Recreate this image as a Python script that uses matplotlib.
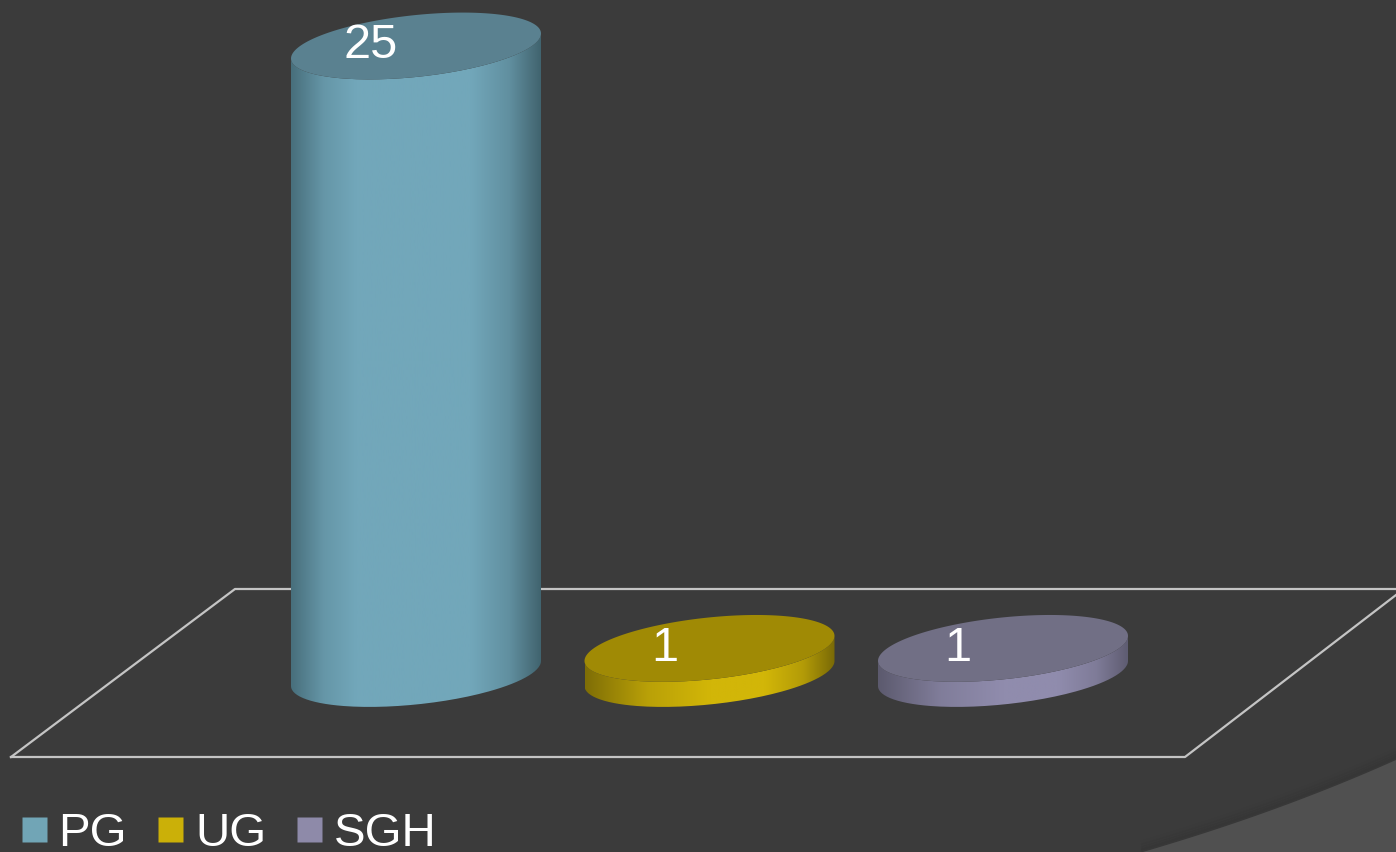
import numpy as np
import matplotlib
matplotlib.use("Agg")
import matplotlib.pyplot as plt
from matplotlib.colors import LinearSegmentedColormap, to_rgb
from matplotlib.lines import Line2D
from matplotlib.patches import PathPatch, Polygon
from matplotlib.path import Path

plt.rcParams['font.family'] = ['Liberation Sans', 'DejaVu Sans']

categories = ["PG", "UG", "SGH"]
values = [25, 1, 1]
labels = ["25", "1", "1"]

# side gradient: edge, light, edge, top face colour, legend colour
side_dark_left = ["#486f7c", "#7f6e06", "#5c5a6e"]
side_light = ["#72a7ba", "#d2b608", "#908cad"]
side_dark_right = ["#41646f", "#7a6a06", "#5f5d72"]
top_colors = ["#5a8190", "#a08a05", "#716f85"]
legend_colors = ["#71a5b6", "#cbb008", "#8e8aa9"]
# where the light band of each side starts and ends, 0-1 across the width
light_from = [0.26, 0.5, 0.5]
light_to = [0.72, 0.72, 0.72]

W, H = 1396, 852
BG = "#3b3b3b"

# the chart was laid out in pixels, one category = 293.5 px, one unit = 25.1 px
X0, DX = 416, 293.5
Y0, DY = 673.5, 25.1
HALF_W = 125 / DX
SHEAR = 12.5 / DY
DEPTH = 31 / DY


def px(x, y):
    return (x - X0) / DX, (Y0 - y) / DY


def ellipse(xc, yc, t):
    return xc + HALF_W * np.cos(t), yc + SHEAR * np.cos(t) - DEPTH * np.sin(t)


def mix(a, b, f):
    return tuple((1 - f) * p + f * q for p, q in zip(to_rgb(a), to_rgb(b)))


fig = plt.figure(figsize=(W / 100, H / 100), dpi=100, facecolor=BG)
ax = fig.add_axes([0, 0, 1, 1])
ax.set_facecolor(BG)
ax.axis("off")

# lighter swoosh in the corner with its soft edge
t = np.linspace(0, 1, 60)
sx = (1 - t) ** 2 * 1143 + 2 * t * (1 - t) * 1280 + t ** 2 * 1396
sy = (1 - t) ** 2 * 852 + 2 * t * (1 - t) * 812 + t ** 2 * 760
for off, a in [(10, 0.015), (7, 0.02), (4, 0.03), (2, 0.04)]:
    ax.plot(*px(sx, sy - off), color="black", lw=3, alpha=a, zorder=1)
corner = [px(a, b) for a, b in zip(sx, sy)] + [px(1396, 852)]
ax.add_patch(Polygon(corner, closed=True, fc="#505050", ec="none", zorder=1))

# floor
floor = [(11, 757), (1185, 757), (1396, 595)]
ax.plot(*zip(*[px(a, b) for a, b in floor]), color="#c4c4c4", lw=1.6, zorder=2)
floor2 = [(11, 757), (235, 589), (1396, 589)]
ax.plot(*zip(*[px(a, b) for a, b in floor2]), color="#c4c4c4", lw=1.6, zorder=2)

# cylinders
for i, v in enumerate(values):
    lo, hi = light_from[i], light_to[i]
    cmap = LinearSegmentedColormap.from_list(
        "side" + str(i),
        [(0, side_dark_left[i]),
         (lo * 0.5, mix(side_dark_left[i], side_light[i], 0.7)),
         (lo, side_light[i]),
         (hi, side_light[i]),
         (hi + (1 - hi) * 0.55, mix(side_dark_right[i], side_light[i], 0.65)),
         (1, side_dark_right[i])])

    tb = np.linspace(0, np.pi, 100)
    bx, by = ellipse(i, 0, tb)
    tt = np.linspace(np.pi, 0, 100)
    ux, uy = ellipse(i, v, tt)
    side_xy = np.column_stack([np.r_[bx, ux], np.r_[by, uy]])
    side = PathPatch(Path(side_xy), fc="none", ec="none", zorder=3)
    ax.add_patch(side)

    grad = np.linspace(0, 1, 256).reshape(1, -1)
    im = ax.imshow(grad, cmap=cmap, aspect="auto", zorder=3,
                   extent=[i - HALF_W, i + HALF_W, -3, v + 3])
    im.set_clip_path(side)

    tf = np.linspace(0, 2 * np.pi, 200)
    ex, ey = ellipse(i, v, tf)
    ax.fill(ex, ey, color=top_colors[i], lw=0, zorder=4)

    ax.text(i - 45 / DX, v + 5 / DY, labels[i], color="white", fontsize=35,
            ha="center", va="center_baseline", zorder=5)

ax.set_xlim((0 - X0) / DX, (W - X0) / DX)
ax.set_ylim((Y0 - H) / DY, Y0 / DY)

handles = [Line2D([], [], ls="none", marker="s", ms=18, mfc=c, mec="none")
           for c in legend_colors]
leg = ax.legend(handles, categories, loc="lower left", ncol=3, frameon=False,
                fontsize=34.2, labelcolor="white", handlelength=0.53,
                handletextpad=0.26, columnspacing=0.64, borderpad=0, borderaxespad=0,
                bbox_to_anchor=(21 / W, -4 / H))

fig.savefig("out.png", dpi=100, facecolor=BG)
